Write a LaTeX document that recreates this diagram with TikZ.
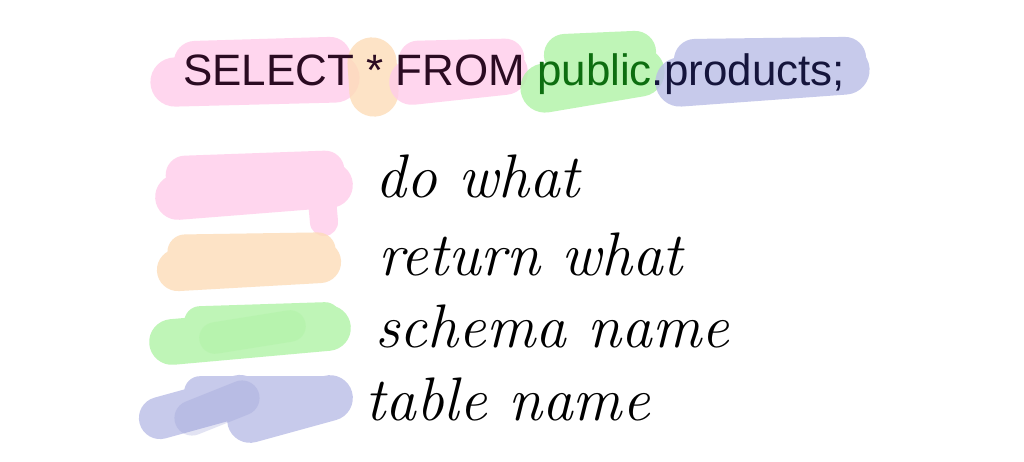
\documentclass[tikz,border=0pt]{standalone}
\usepackage{fontspec}
\newfontfamily\sqlfont{Liberation Sans}
\usetikzlibrary{positioning}
\definecolor{hlpink}{HTML}{FFCCEA}
\definecolor{hlorange}{HTML}{FDDCB8}
\definecolor{hlgreen}{HTML}{B0F3A6}
\definecolor{hlblue}{HTML}{BABDE7}
\definecolor{hlbluedk}{HTML}{8E93D2}
\definecolor{kwcol}{HTML}{2B0B22}
\definecolor{schcol}{HTML}{0D6E10}
\definecolor{tblcol}{HTML}{15153C}

\begin{document}
\begin{tikzpicture}[x=0.02cm, y=-0.02cm,
    brush/.style={line cap=round, line width=#1},
    swatch/.style={transparency group, opacity=0.8},
    hand/.style={font=\fontsize{35}{38}\selectfont\itshape, anchor=base west, inner sep=0pt},
]
\useasboundingbox[fill=white] (0,0) rectangle (1024,462);

% --- highlights behind the query ---
\begin{scope}[swatch]
\draw[brush=28pt, hlpink] (175,82) -- (335,78);
\draw[brush=24pt, hlpink] (195,62) -- (330,58);
\end{scope}
\begin{scope}[swatch]
\draw[brush=28pt, hlorange] (372,62) -- (374,92);
\end{scope}
\begin{scope}[swatch]
\draw[brush=26pt, hlpink] (412,82) -- (505,72);
\draw[brush=22pt, hlpink] (418,60) -- (505,58);
\end{scope}
\begin{scope}[swatch]
\draw[brush=28pt, hlgreen] (545,88) -- (640,72);
\draw[brush=24pt, hlgreen] (565,55) -- (635,52);
\end{scope}
\begin{scope}[swatch]
\draw[brush=28pt, hlblue] (680,82) -- (845,70);
\draw[brush=24pt, hlblue] (695,60) -- (845,58);
\end{scope}

% --- the query ---
\node[font=\sqlfont\fontsize{25}{28}\selectfont, anchor=base west, inner sep=0pt] (query) at (183,86)
    {\textcolor{kwcol}{SELECT * FROM} \textcolor{schcol}{public}\textcolor{tblcol}{.products;}};

% --- legend swatches ---
\begin{scope}[swatch]
\draw[brush=26pt, hlpink] (178,197) -- (330,185);
\draw[brush=22pt, hlpink] (185,175) -- (325,170);
\draw[brush=16pt, hlpink] (322,200) -- (324,222);
\end{scope}
\begin{scope}[swatch]
\draw[brush=24pt, hlorange] (178,270) -- (320,262);
\draw[brush=20pt, hlorange] (185,252) -- (318,250);
\end{scope}
\begin{scope}[swatch]
\draw[brush=26pt, hlgreen] (172,342) -- (328,328);
\draw[brush=18pt, hlgreen] (200,322) -- (325,318);
\end{scope}
\draw[brush=18pt, hlgreen, draw opacity=0.5] (215,338) -- (290,326);
\begin{scope}[swatch]
\draw[brush=24pt, hlblue] (160,418) -- (240,396);
\draw[brush=26pt, hlblue] (250,420) -- (330,398);
\draw[brush=18pt, hlblue] (200,392) -- (325,392);
\end{scope}
\draw[brush=20pt, hlbluedk, draw opacity=0.25] (192,418) -- (242,398);

% --- legend labels ---
\node[hand] (dowhat) at (375,198) {do what};
\node[hand] (retwhat) at (378,276) {return what};
\node[hand] (schema) at (375,348) {schema name};
\node[hand] (table) at (365,420) {table name};
\end{tikzpicture}
\end{document}
